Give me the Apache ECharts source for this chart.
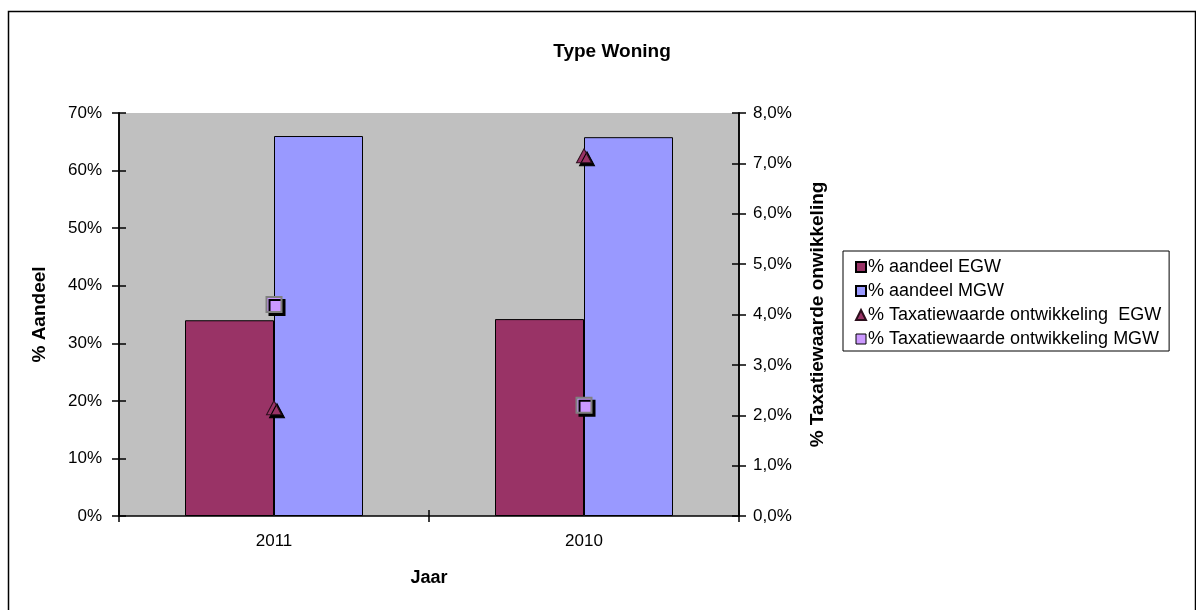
<!DOCTYPE html>
<html>
<head>
<meta charset="utf-8">
<script src="https://cdn.jsdelivr.net/npm/echarts@6/dist/echarts.min.js"></script>
<style>
  html, body { margin: 0; padding: 0; background: #ffffff; }
  #chart { width: 1196px; height: 610px; }
</style>
</head>
<body>
<div id="chart"></div>
<script>
// Categories (years) and values
const years = ['2011', '2010'];
const aandeelEGW = [34.0, 34.2];          // % aandeel EGW (left axis)
const aandeelMGW = [66.0, 65.8];          // % aandeel MGW (left axis)
const taxatieEGW = [2.15, 7.15];          // % Taxatiewaarde ontwikkeling EGW (right axis)
const taxatieMGW = [4.2, 2.2];            // % Taxatiewaarde ontwikkeling MGW (right axis)
const leftTicks = [0, 10, 20, 30, 40, 50, 60, 70];
const rightTicks = [0, 1, 2, 3, 4, 5, 6, 7, 8];

const FONT = '"Liberation Sans", Arial, sans-serif';
const chart = echarts.init(document.getElementById('chart'), null, { renderer: 'canvas' });

const baseText = { fontFamily: FONT, fontSize: 17, color: '#000' };
const markerShadow = { shadowColor: '#000', shadowBlur: 0, shadowOffsetX: 3, shadowOffsetY: 3 };

// Value-axis template; ticks drawn across the axis line using an outward and an inward copy
function valueAxis(pos, ticks, fmt, inside, showLabel, name) {
  const max = ticks[ticks.length - 1];
  return {
    type: 'value', position: pos, min: ticks[0], max: max, interval: ticks[1] - ticks[0],
    name: name || '', nameLocation: 'middle', nameRotate: 90, nameGap: pos === 'left' ? 70 : 69,
    nameTextStyle: { fontFamily: FONT, fontSize: 19, fontWeight: 'bold', color: '#000' },
    axisLine: { show: true, lineStyle: { color: '#000', width: 1.5 } },
    axisTick: { show: true, inside: inside, length: 7, lineStyle: { color: '#000', width: 1.5 } },
    axisLabel: { show: showLabel, formatter: fmt, margin: pos === 'left' ? 17 : 14, ...baseText },
    splitLine: { show: false }
  };
}
const fmtLeft = v => Math.round(v) + '%';
const fmtRight = v => v.toFixed(1).replace('.', ',') + '%';

chart.setOption({
  animation: false,
  backgroundColor: '#ffffff',
  title: {
    text: 'Type Woning', left: 607, top: 37, textAlign: 'center',
    textStyle: { fontFamily: FONT, fontSize: 19, fontWeight: 'bold', color: '#000' }
  },
  grid: { left: 119, right: 457, top: 113, bottom: 94, show: true, backgroundColor: '#C0C0C0', borderWidth: 0 },
  legend: {
    orient: 'vertical', left: 843, top: 251,
    itemWidth: 10, itemHeight: 10, itemGap: 6,
    padding: [7, 8, 3, 12],
    borderColor: '#000', borderWidth: 1,
    textStyle: { fontFamily: FONT, fontSize: 18, color: '#000', padding: [0, 0, 0, -3] },
    data: [
      { name: '% aandeel EGW', icon: 'rect', itemStyle: { shadowColor: 'transparent' } },
      { name: '% aandeel MGW', icon: 'rect', itemStyle: { shadowColor: 'transparent' } },
      { name: '% Taxatiewaarde ontwikkeling  EGW', icon: 'triangle', itemStyle: { shadowColor: 'transparent' } },
      { name: '% Taxatiewaarde ontwikkeling MGW', icon: 'rect', itemStyle: { shadowColor: 'transparent', borderColor: '#000', borderWidth: 1 } }
    ]
  },
  xAxis: [
    {
      type: 'category', data: years, position: 'bottom',
      name: 'Jaar', nameLocation: 'middle', nameGap: 53,
      nameTextStyle: { fontFamily: FONT, fontSize: 18, fontWeight: 'bold', color: '#000' },
      axisLine: { lineStyle: { color: '#000', width: 1.5 } },
      axisTick: { show: true, length: 6, lineStyle: { color: '#000', width: 1.5 } },
      axisLabel: { margin: 17, ...baseText }
    },
    {
      type: 'category', data: years, position: 'bottom',
      axisLine: { show: false },
      axisTick: { show: true, inside: true, length: 6, lineStyle: { color: '#000', width: 1.5 } },
      axisLabel: { show: false }
    }
  ],
  yAxis: [
    valueAxis('left', leftTicks, fmtLeft, false, true, '% Aandeel'),
    valueAxis('right', rightTicks, fmtRight, false, true, '% Taxatiewaarde onwikkeling'),
    valueAxis('left', leftTicks, fmtLeft, true, false),
    valueAxis('right', rightTicks, fmtRight, true, false)
  ],
  series: [
    {
      name: '% aandeel EGW', type: 'bar', data: aandeelEGW, yAxisIndex: 0,
      barWidth: 89, barGap: '0%',
      itemStyle: { color: '#993366', borderColor: '#000', borderWidth: 1 }
    },
    {
      name: '% aandeel MGW', type: 'bar', data: aandeelMGW, yAxisIndex: 0,
      barWidth: 89, barGap: '0%',
      itemStyle: { color: '#9999FF', borderColor: '#000', borderWidth: 1 }
    },
    {
      name: '% Taxatiewaarde ontwikkeling  EGW', type: 'line', data: taxatieEGW, yAxisIndex: 1,
      symbol: 'triangle', symbolSize: [15, 14], showSymbol: true,
      lineStyle: { width: 0, opacity: 0 },
      itemStyle: { color: '#993366', borderColor: '#2b0f1c', borderWidth: 1, ...markerShadow },
      z: 5
    },
    {
      name: '% Taxatiewaarde ontwikkeling MGW', type: 'line', data: taxatieMGW, yAxisIndex: 1,
      symbol: 'rect', symbolSize: 15, showSymbol: true,
      lineStyle: { width: 0, opacity: 0 },
      itemStyle: { color: '#CC99FF', borderColor: '#808080', borderWidth: 2, ...markerShadow },
      z: 5
    }
  ],
  graphic: [
    {
      type: 'rect', left: 6, top: 9, silent: true, z: -10,
      shape: { x: 0, y: 0, width: 1187, height: 700 },
      style: { fill: 'none', stroke: '#000', lineWidth: 1.5 }
    }
  ]
});
</script>
</body>
</html>
